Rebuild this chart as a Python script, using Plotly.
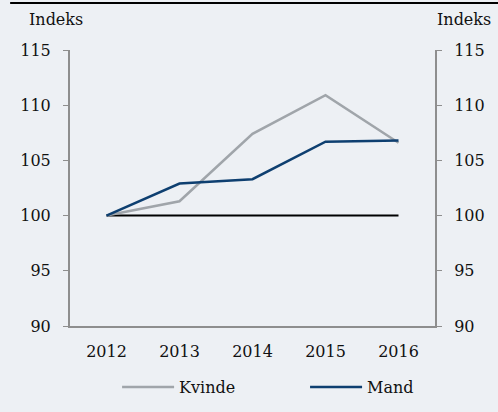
import plotly.graph_objects as go

years = ["2012", "2013", "2014", "2015", "2016"]
kvinde = [100, 101.3, 107.4, 110.9, 106.6]
mand = [100, 102.9, 103.3, 106.7, 106.8]
baseline = [100, 100, 100, 100, 100]
yticks = [90, 95, 100, 105, 110, 115]

BG = "#EDF0F4"
FONT = "DejaVu Serif"
FS = 16
AX = "#8E8E8E"
TXT = "#111111"

fig = go.Figure()
fig.add_trace(go.Scatter(x=years, y=baseline, mode="lines", line=dict(color="#000000", width=2),
                         showlegend=False, hoverinfo="skip"))
fig.add_trace(go.Scatter(x=years, y=kvinde, mode="lines", name="Kvinde", legend="legend",
                         line=dict(color="#A0A5AA", width=2.5)))
fig.add_trace(go.Scatter(x=years, y=mand, mode="lines", name="Mand", legend="legend2",
                         line=dict(color="#0E3F70", width=2.5)))
fig.add_trace(go.Scatter(x=years, y=baseline, mode="lines", yaxis="y2", line=dict(width=0),
                         showlegend=False, hoverinfo="skip", opacity=0))

axis_common = dict(range=[90, 115], tickvals=yticks, ticks="outside", ticklen=5,
                   tickcolor=AX, showline=True, linecolor=AX, linewidth=2, ticklabelstandoff=9,
                   showgrid=False, zeroline=False, automargin=False,
                   tickfont=dict(family=FONT, size=FS, color=TXT))

leg_common = dict(orientation="h", xanchor="left", y=-0.221, yanchor="middle",
                  font=dict(family=FONT, size=FS, color=TXT), itemwidth=52,
                  bgcolor="rgba(0,0,0,0)")

fig.update_layout(
    width=498, height=412,
    paper_bgcolor=BG, plot_bgcolor=BG,
    margin=dict(l=70, r=63, t=50, b=86, autoexpand=False),
    font=dict(family=FONT, size=FS, color=TXT),
    xaxis=dict(type="category", range=[-0.5, 4.5], showline=True, linecolor=AX, linewidth=2,
               ticks="", showgrid=False, zeroline=False, ticklabelstandoff=10, automargin=False,
               tickfont=dict(family=FONT, size=FS, color=TXT)),
    yaxis=dict(side="left", **axis_common),
    yaxis2=dict(side="right", overlaying="y", **axis_common),
    legend=dict(x=0.129, **leg_common),
    legend2=dict(x=0.644, **leg_common),
    showlegend=True,
)

fig.add_annotation(text="Indeks", xref="paper", yref="paper", x=-0.118, y=1.109, xanchor="left",
                   yanchor="middle", showarrow=False, font=dict(family=FONT, size=FS, color=TXT))
fig.add_annotation(text="Indeks", xref="paper", yref="paper", x=1.16, y=1.109, xanchor="right",
                   yanchor="middle", showarrow=False, font=dict(family=FONT, size=FS, color=TXT))

fig.add_shape(type="line", xref="paper", yref="paper", x0=-0.164, x1=1.2, y0=1.17, y1=1.17,
              line=dict(color="#000000", width=2))

fig.write_html("out.html", config={"displayModeBar": False},
               post_script="document.body.style.margin='0';")
